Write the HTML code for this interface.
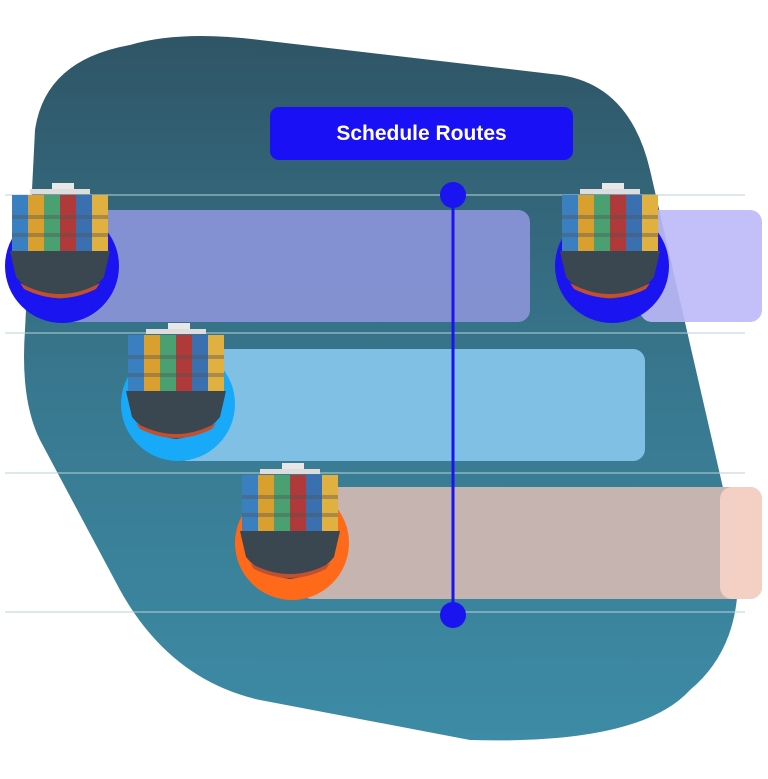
<!DOCTYPE html>
<html><head><meta charset="utf-8"><style>
html,body{margin:0;padding:0;background:#fff;width:768px;height:779px;overflow:hidden}
.btn{position:absolute;left:270px;top:107px;width:303px;height:53px;background:#1a10f5;border-radius:9px;color:#fff;font:bold 21px "Liberation Sans",sans-serif;display:flex;align-items:center;justify-content:center}
</style></head><body>
<svg width="768" height="779" style="position:absolute;left:0;top:0">
<defs>
<linearGradient id="bg" x1="0" y1="0" x2="0" y2="1">
<stop offset="0" stop-color="#2f5566"/><stop offset="0.5" stop-color="#38788f"/><stop offset="1" stop-color="#3d8ba6"/>
</linearGradient>
<g id="ship">
<rect x="-8" y="-82" width="22" height="8" fill="#e8e8e8"/>
<rect x="-30" y="-76" width="60" height="5" fill="#ddd"/>
<rect x="-48" y="-70" width="96" height="56" fill="#c44"/>
<rect x="-48" y="-70" width="16" height="56" fill="#3a7fc0"/>
<rect x="-32" y="-70" width="16" height="56" fill="#d9a030"/>
<rect x="-16" y="-70" width="16" height="56" fill="#4aa070"/>
<rect x="0" y="-70" width="16" height="56" fill="#b03a3a"/>
<rect x="16" y="-70" width="16" height="56" fill="#3a70b0"/>
<rect x="32" y="-70" width="16" height="56" fill="#e0b040"/>
<rect x="-48" y="-50" width="96" height="4" fill="#555" opacity=".4"/>
<rect x="-48" y="-32" width="96" height="4" fill="#555" opacity=".4"/>
<path d="M-50,-14 L50,-14 L44,12 Q30,30 0,34 Q-30,30 -44,12 Z" fill="#3a4650"/>
<path d="M-40,18 Q0,40 40,18 L36,24 Q0,42 -36,24 Z" fill="#c05030"/>
</g>
</defs>
<path d="M130,45 Q180,30 260,40 L560,75 Q630,85 650,170 L735,540 Q750,640 690,690 Q640,745 470,740 L260,700 Q170,680 120,590 L40,440 Q20,400 25,330 L35,130 Q45,60 130,45 Z" fill="url(#bg)"/>
<g stroke="#b8d2da" stroke-width="1">
<line x1="5" y1="195" x2="745" y2="195"/><line x1="5" y1="333" x2="745" y2="333"/>
<line x1="5" y1="473" x2="745" y2="473"/><line x1="5" y1="612" x2="745" y2="612"/>
</g>
<rect x="60" y="210" width="470" height="112" rx="12" fill="#8a94d8" opacity=".92"/>
<rect x="640" y="210" width="122" height="112" rx="12" fill="#bcb8f8" opacity=".9"/>
<rect x="175" y="349" width="470" height="112" rx="12" fill="#7fc0e4"/>
<rect x="300" y="487" width="462" height="112" rx="12" fill="#c6b4b0"/>
<rect x="720" y="487" width="42" height="112" rx="12" fill="#f4cfc4"/>
<circle cx="62" cy="266" r="57" fill="#1a14f0"/>
<circle cx="612" cy="266" r="57" fill="#1a14f0"/>
<circle cx="178" cy="404" r="57" fill="#18aaf8"/>
<circle cx="292" cy="543" r="57" fill="#ff6a1a"/>
<use href="#ship" x="60" y="265"/>
<use href="#ship" x="610" y="265"/>
<use href="#ship" x="176" y="405"/>
<use href="#ship" x="290" y="545"/>
<line x1="453" y1="195" x2="453" y2="615" stroke="#1a14f0" stroke-width="3"/>
<circle cx="453" cy="195" r="13" fill="#1a14f0"/>
<circle cx="453" cy="615" r="13" fill="#1a14f0"/>
</svg>
<div class="btn">Schedule Routes</div>
</body></html>
